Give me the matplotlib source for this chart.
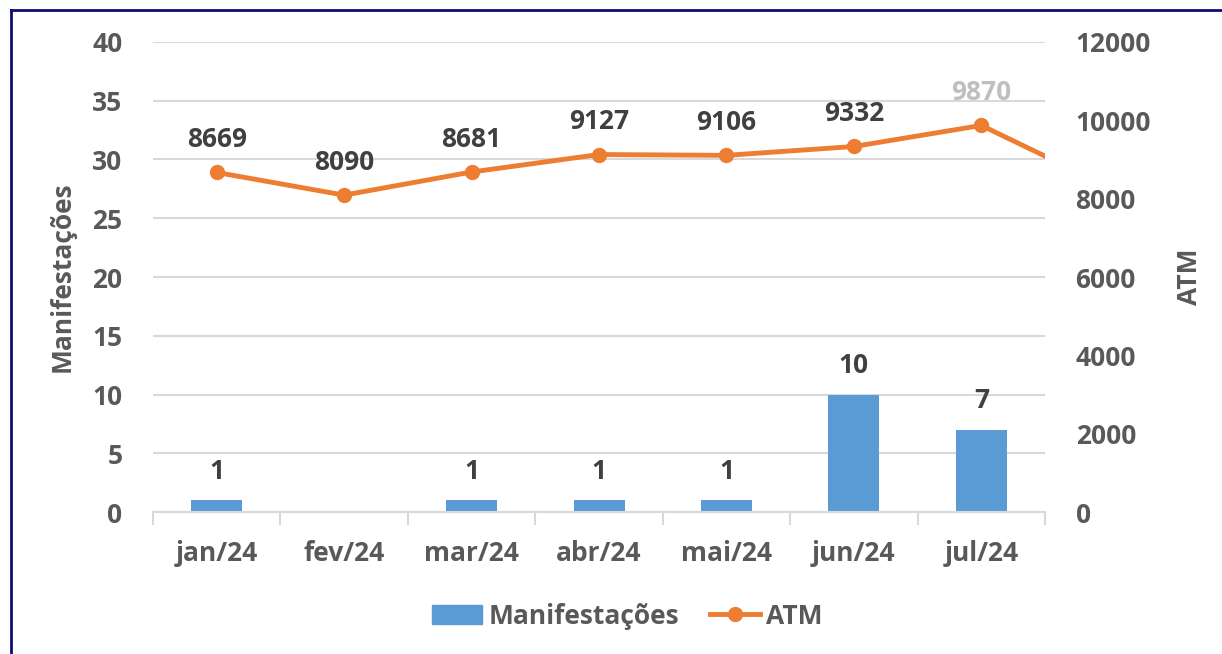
import matplotlib
matplotlib.use("Agg")
import matplotlib.pyplot as plt
from matplotlib.lines import Line2D

plt.rcParams['font.family'] = ['Open Sans', 'DejaVu Sans']
plt.rcParams['font.weight'] = 'bold'

categories = ["jan/24", "fev/24", "mar/24", "abr/24", "mai/24", "jun/24", "jul/24"]
manifestacoes = [1, 0, 1, 1, 1, 10, 7]
atm = [8669, 8090, 8681, 9127, 9106, 9332, 9870]
atm_next = 8300  # continuation beyond the plot edge (clipped)

bar_color = "#5B9BD5"
line_color = "#ED7D31"
text_color = "#595959"
label_color = "#404040"
grid_color = "#D9D9D9"
FS = 19

fig = plt.figure(figsize=(12.22, 6.54), dpi=100)
ax = fig.add_axes([0.1252, 0.2171, 0.7300, 0.7187])
ax2 = ax.twinx()

n = len(categories)
x = list(range(n))

ax.bar(x, manifestacoes, width=0.4, color=bar_color, zorder=2)
for xi, v in zip(x, manifestacoes):
    if v > 0:
        ax.annotate(str(v), (xi, v), xytext=(0, 11), textcoords="offset points",
                    ha="center", va="bottom", fontsize=FS, fontweight="bold", color=label_color)

ax.set_ylim(0, 40)
ax.set_yticks(range(0, 41, 5))
ax.set_xlim(-0.5, n - 0.5)
ax.set_xticks(x)
ax.set_xticklabels(categories)
ax.yaxis.grid(True, color=grid_color, linewidth=1.5, zorder=0)
ax.set_axisbelow(True)
for s in ["top", "right", "left"]:
    ax.spines[s].set_visible(False)
ax.spines["bottom"].set_color(grid_color)
ax.spines["bottom"].set_linewidth(1.5)
ax.tick_params(axis="y", length=0, pad=22, labelsize=FS, labelcolor=text_color)
ax.tick_params(axis="x", length=0, pad=20, labelsize=FS, labelcolor=text_color)
ax.set_xticks([i - 0.5 for i in range(n + 1)], minor=True)
ax.tick_params(axis="x", which="minor", length=9, width=1.5, color=grid_color)
ax.set_ylabel("Manifestações", fontsize=FS, fontweight="bold", color=text_color, labelpad=12)

xl = x + [n]
yl = atm + [atm_next]
ax2.plot(xl, yl, color=line_color, linewidth=3.5, marker="o", markersize=10, zorder=3)
ax2.set_ylim(0, 12000)
ax2.set_yticks(range(0, 12001, 2000))
ax2.set_xlim(-0.5, n - 0.5)
for s in ["top", "right", "left", "bottom"]:
    ax2.spines[s].set_visible(False)
ax2.tick_params(axis="y", length=0, pad=22, labelsize=FS, labelcolor=text_color)
ax2.set_ylabel("ATM", fontsize=FS, fontweight="bold", color=text_color, labelpad=18)

for i, (xi, v) in enumerate(zip(x, atm)):
    c = "#BFBFBF" if i == n - 1 else label_color
    ax2.annotate(str(v), (xi, v), xytext=(0, 14), textcoords="offset points",
                 ha="center", va="bottom", fontsize=FS, fontweight="bold", color=c)

handles = [plt.Rectangle((0, 0), 1, 1, color=bar_color),
           Line2D([0], [0], color=line_color, linewidth=3.5, marker="o", markersize=10)]
fig.legend(handles, ["Manifestações", "ATM"], loc="center", bbox_to_anchor=(0.5135, 0.058),
           ncol=2, frameon=False, fontsize=FS, labelcolor=text_color,
           handlelength=1.9, handleheight=0.7, columnspacing=1.15, handletextpad=0.25)

fig.add_artist(Line2D([11 / 1222, 1.0], [1 - 10 / 654, 1 - 10 / 654], transform=fig.transFigure,
                      color="#0D0D73", linewidth=2))
fig.add_artist(Line2D([11 / 1222, 11 / 1222], [0, 1 - 10 / 654], transform=fig.transFigure,
                      color="#0D0D73", linewidth=2))

fig.savefig("out.png", dpi=100)
